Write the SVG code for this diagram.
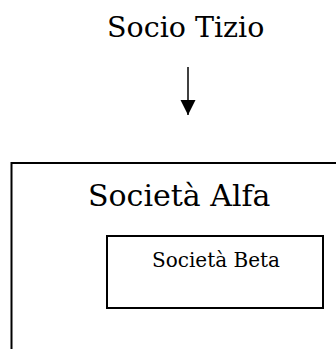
<svg xmlns="http://www.w3.org/2000/svg" width="336" height="349" viewBox="0 0 336 349">
<style>
text{font-family:"DejaVu Serif","Liberation Serif",serif;fill:#000}
.box{fill:none;stroke:#000;stroke-width:2}
</style>
<defs>
<marker id="ah" markerUnits="userSpaceOnUse" markerWidth="15" markerHeight="16" refX="15" refY="7.5" orient="auto">
<path d="M0,0 L15,7.5 L0,15 Z" fill="#000"/>
</marker>
</defs>
<rect width="336" height="349" fill="#fff"/>
<g id="socio-tizio">
<text x="107" y="37" font-size="28.5">Socio Tizio</text>
</g>
<g id="connectors">
<line x1="188" y1="67" x2="188" y2="115" stroke="#000" stroke-width="1.5" marker-end="url(#ah)"/>
</g>
<g id="societa-alfa">
<rect class="box" x="11.5" y="163" width="340" height="200"/>
<text x="88" y="206" font-size="30">Società Alfa</text>
</g>
<g id="societa-beta">
<rect class="box" x="107" y="236" width="216" height="72"/>
<text x="152" y="267" font-size="20">Società Beta</text>
</g>
</svg>
